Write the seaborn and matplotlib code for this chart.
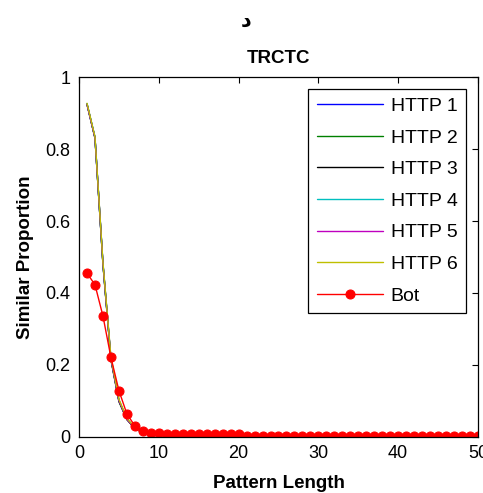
import pandas as pd
import matplotlib
matplotlib.use("Agg")
import matplotlib.pyplot as plt
import seaborn as sns

# pattern length 1..50
pattern_length = [1, 2, 3, 4, 5, 6, 7, 8, 9, 10,
                  11, 12, 13, 14, 15, 16, 17, 18, 19, 20,
                  21, 22, 23, 24, 25, 26, 27, 28, 29, 30,
                  31, 32, 33, 34, 35, 36, 37, 38, 39, 40,
                  41, 42, 43, 44, 45, 46, 47, 48, 49, 50]

http_1 = [0.925, 0.832, 0.482, 0.218, 0.102, 0.050, 0.025, 0.013, 0.008, 0.006,
          0.005, 0.005, 0.004, 0.004, 0.004, 0.004, 0.004, 0.004, 0.004, 0.004,
          0.003, 0.003, 0.003, 0.003, 0.003, 0.003, 0.003, 0.003, 0.003, 0.003,
          0.003, 0.003, 0.003, 0.003, 0.003, 0.003, 0.003, 0.003, 0.003, 0.003,
          0.003, 0.003, 0.003, 0.003, 0.003, 0.003, 0.003, 0.003, 0.003, 0.003]
http_2 = [0.924, 0.830, 0.479, 0.214, 0.098, 0.048, 0.024, 0.012, 0.008, 0.006,
          0.005, 0.005, 0.004, 0.004, 0.004, 0.004, 0.004, 0.004, 0.004, 0.004,
          0.003, 0.003, 0.003, 0.003, 0.003, 0.003, 0.003, 0.003, 0.003, 0.003,
          0.003, 0.003, 0.003, 0.003, 0.003, 0.003, 0.003, 0.003, 0.003, 0.003,
          0.003, 0.003, 0.003, 0.003, 0.003, 0.003, 0.003, 0.003, 0.003, 0.003]
http_3 = [0.925, 0.831, 0.480, 0.216, 0.100, 0.049, 0.024, 0.012, 0.008, 0.006,
          0.005, 0.005, 0.004, 0.004, 0.004, 0.004, 0.004, 0.004, 0.004, 0.004,
          0.003, 0.003, 0.003, 0.003, 0.003, 0.003, 0.003, 0.003, 0.003, 0.003,
          0.003, 0.003, 0.003, 0.003, 0.003, 0.003, 0.003, 0.003, 0.003, 0.003,
          0.003, 0.003, 0.003, 0.003, 0.003, 0.003, 0.003, 0.003, 0.003, 0.003]
http_4 = [0.926, 0.833, 0.483, 0.219, 0.103, 0.051, 0.025, 0.013, 0.008, 0.006,
          0.005, 0.005, 0.004, 0.004, 0.004, 0.004, 0.004, 0.004, 0.004, 0.004,
          0.003, 0.003, 0.003, 0.003, 0.003, 0.003, 0.003, 0.003, 0.003, 0.003,
          0.003, 0.003, 0.003, 0.003, 0.003, 0.003, 0.003, 0.003, 0.003, 0.003,
          0.003, 0.003, 0.003, 0.003, 0.003, 0.003, 0.003, 0.003, 0.003, 0.003]
http_5 = [0.924, 0.831, 0.481, 0.217, 0.101, 0.049, 0.024, 0.012, 0.008, 0.006,
          0.005, 0.005, 0.004, 0.004, 0.004, 0.004, 0.004, 0.004, 0.004, 0.004,
          0.003, 0.003, 0.003, 0.003, 0.003, 0.003, 0.003, 0.003, 0.003, 0.003,
          0.003, 0.003, 0.003, 0.003, 0.003, 0.003, 0.003, 0.003, 0.003, 0.003,
          0.003, 0.003, 0.003, 0.003, 0.003, 0.003, 0.003, 0.003, 0.003, 0.003]
http_6 = [0.927, 0.834, 0.485, 0.222, 0.105, 0.052, 0.026, 0.013, 0.008, 0.006,
          0.005, 0.005, 0.004, 0.004, 0.004, 0.004, 0.004, 0.004, 0.004, 0.004,
          0.003, 0.003, 0.003, 0.003, 0.003, 0.003, 0.003, 0.003, 0.003, 0.003,
          0.003, 0.003, 0.003, 0.003, 0.003, 0.003, 0.003, 0.003, 0.003, 0.003,
          0.003, 0.003, 0.003, 0.003, 0.003, 0.003, 0.003, 0.003, 0.003, 0.003]
bot = [0.455, 0.423, 0.336, 0.221, 0.129, 0.064, 0.031, 0.018, 0.012, 0.011,
       0.008, 0.008, 0.008, 0.008, 0.008, 0.008, 0.008, 0.008, 0.008, 0.008,
       0.002, 0.002, 0.002, 0.002, 0.002, 0.002, 0.002, 0.002, 0.002, 0.002,
       0.002, 0.002, 0.002, 0.002, 0.002, 0.002, 0.002, 0.002, 0.002, 0.002,
       0.002, 0.002, 0.002, 0.002, 0.002, 0.002, 0.002, 0.002, 0.002, 0.002]

series_names = ["HTTP 1", "HTTP 2", "HTTP 3", "HTTP 4", "HTTP 5", "HTTP 6"]
series_colors = ["#0000ff", "#008000", "#000000", "#00bfbf", "#bf00bf", "#bfbf00"]

sns.set_style("white")
plt.rcParams["font.family"] = ["Liberation Sans", "DejaVu Sans"]
plt.rcParams["text.color"] = "black"
plt.rcParams["axes.labelcolor"] = "black"
plt.rcParams["xtick.color"] = "black"
plt.rcParams["ytick.color"] = "black"

fig = plt.figure(figsize=(4.83, 4.93), dpi=100)
ax = fig.add_axes([0.1636, 0.1136, 0.8260, 0.7302])

for name, values, color in zip(series_names, [http_1, http_2, http_3, http_4, http_5, http_6], series_colors):
    df = pd.DataFrame({"x": pattern_length, "y": values})
    sns.lineplot(data=df, x="x", y="y", color=color, linewidth=1.0, label=name, ax=ax)

df_bot = pd.DataFrame({"x": pattern_length, "y": bot})
sns.lineplot(data=df_bot, x="x", y="y", color="#ff0000", linewidth=1.0, marker="o",
             markersize=6.5, markeredgecolor="#ff0000", label="Bot", ax=ax)

ax.set_xlim(0, 50)
ax.set_ylim(0, 1)
ax.set_xticks([0, 10, 20, 30, 40, 50])
ax.set_yticks([0, 0.2, 0.4, 0.6, 0.8, 1])
ax.set_yticklabels(["0", "0.2", "0.4", "0.6", "0.8", "1"])
ax.tick_params(direction="in", top=True, right=True, length=4, width=0.8,
               labelsize=13, color="black", labelcolor="black", pad=6)
for sp in ax.spines.values():
    sp.set_color("black")
    sp.set_linewidth(0.9)

ax.set_xlabel("Pattern Length", fontsize=13.5, fontweight="bold", labelpad=9)
ax.set_ylabel("Similar Proportion", fontsize=13.5, fontweight="bold", labelpad=8)
ax.set_title("TRCTC", fontsize=13.5, fontweight="bold", pad=10)
fig.text(0.51, 0.958, "د", fontsize=15, fontweight="bold", ha="center", va="center",
         family=["DejaVu Sans"])

leg = ax.legend(loc="upper right", fontsize=14, frameon=True, fancybox=False,
                edgecolor="black", handlelength=3.4, handletextpad=0.4,
                labelspacing=0.72, borderaxespad=0.6, borderpad=0.45)
leg.get_frame().set_linewidth(0.9)
leg.get_frame().set_alpha(1)

fig.savefig("out.png", dpi=100)
